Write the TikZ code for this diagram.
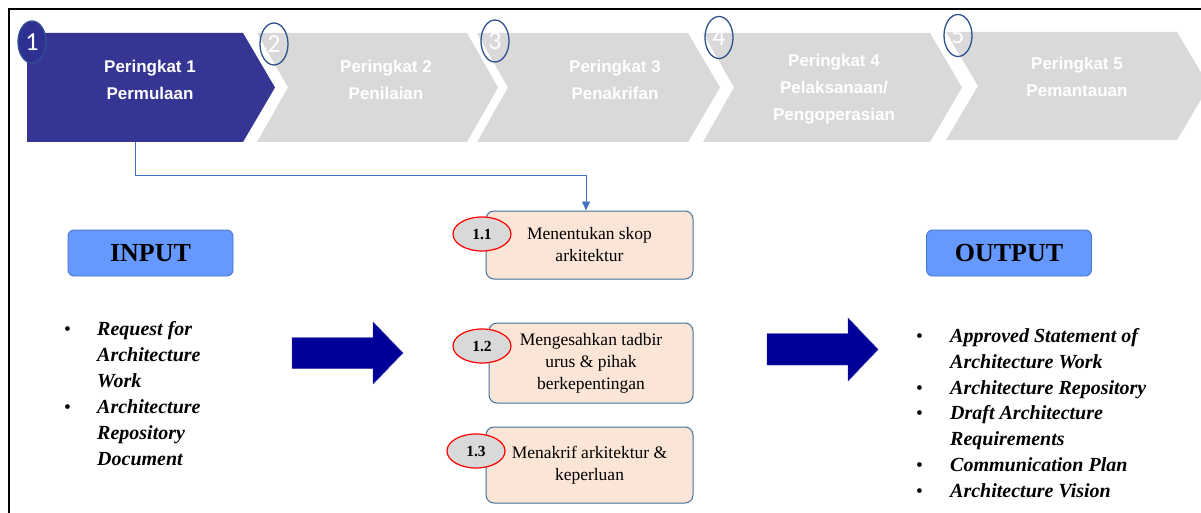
\documentclass[tikz,border=0pt]{standalone}
\usepackage{fontspec}
\setmainfont{Liberation Serif}
\newfontfamily\stagefont{Liberation Sans}
\newfontfamily\digitfont{Carlito}
\usetikzlibrary{shapes.geometric,arrows.meta}

\definecolor{stagedark}{HTML}{353594}
\definecolor{ringdark}{HTML}{2E3192}
\definecolor{stagegray}{HTML}{D9D9D9}
\definecolor{ringblue}{HTML}{2F528F}
\definecolor{peach}{HTML}{FBE5D6}
\definecolor{boxedge}{HTML}{41719C}
\definecolor{linkblue}{HTML}{4472C4}
\definecolor{ioblue}{HTML}{6699FF}
\definecolor{ioedge}{HTML}{4472C4}
\definecolor{bignavy}{HTML}{000099}
\definecolor{badgered}{HTML}{FF0000}

\tikzset{
  stagetext/.style={text=white, align=center,
    font=\stagefont\bfseries\fontsize{17}{27}\selectfont},
  ring/.style={ellipse, draw=ringblue, line width=1.3pt, inner sep=0pt,
    minimum width=28pt, minimum height=42pt, text=white,
    font=\digitfont\fontsize{26}{26}\selectfont},
  taskbox/.style={rectangle, rounded corners=8pt, draw=boxedge, line width=1pt,
    fill=peach, align=center, inner sep=2pt,
    font=\fontsize{17.5}{22}\selectfont},
  badge/.style={ellipse, draw=badgered, line width=1.2pt, fill=stagegray,
    minimum width=58pt, minimum height=34pt, inner sep=0pt,
    font=\bfseries\fontsize{15.5}{15.5}\selectfont},
  iobox/.style={rectangle, rounded corners=6pt, draw=ioedge, line width=0.8pt,
    fill=ioblue, minimum width=165pt, minimum height=46pt,
    font=\bfseries\fontsize{26}{26}\selectfont},
  listline/.style={anchor=base west, inner sep=0pt,
    font=\bfseries\itshape\fontsize{20}{26}\selectfont},
  bulletmark/.style={anchor=base west, inner sep=0pt,
    font=\fontsize{19.5}{26}\selectfont},
  link/.style={draw=linkblue, line width=0.8pt},
  bigarrow/.style={fill=bignavy, draw=bignavy!80, line width=0.4pt}
}

\begin{document}
\begin{tikzpicture}[x=1pt,y=-1pt]
\useasboundingbox (0,0) rectangle (1201,513);
\fill[white] (0,0) rectangle (1201,513);

% outer frame
\draw[black, line width=2pt] (8.5,514) -- (8.5,9.5) -- (1202,9.5);

% stage chevrons
\fill[stagedark] (27,33) -- (243,33) -- (275,87.5) -- (243,142) -- (27,142) -- cycle;
\fill[stagegray] (257,33) -- (467,33) -- (498,87.5) -- (467,142) -- (257,142) -- (288,87.5) -- cycle;
\fill[stagegray] (477,33) -- (688,33) -- (720,87.5) -- (688,142) -- (477,142) -- (508,87.5) -- cycle;
\fill[stagegray] (703,33) -- (930,33) -- (962,87.5) -- (930,142) -- (703,142) -- (734,87.5) -- cycle;
\fill[stagegray] (946,32) -- (1177,32) -- (1209,86) -- (1177,140) -- (946,140) -- (978,86) -- cycle;

\node[stagetext] (s1) at (150,79.5) {Peringkat 1\\Permulaan};
\node[stagetext] (s2) at (386,79.5) {Peringkat 2\\Penilaian};
\node[stagetext] (s3) at (615,79.5) {Peringkat 3\\Penakrifan};
\node[stagetext] (s4) at (834,89.5) {Peringkat 4\\Pelaksanaan/\\Pengoperasian};
\node[stagetext] (s5) at (1077,76.5) {Peringkat 5\\Pemantauan};

% stage numbers
\node[ring, fill=ringdark] (r1) at (32,42) {1};
\node[ring] (r2) at (274,44) {2};
\node[ring] (r3) at (495,41) {3};
\node[ring] (r4) at (719,37.5) {4};
\node[ring] (r5) at (958,35.5) {5};

% activities of stage 1
\node[taskbox, minimum width=207pt, minimum height=68pt] (t1) at (589.5,245)
  {Menentukan skop\\arkitektur};
\node[taskbox, minimum width=204pt, minimum height=80pt] (t2) at (591,363)
  {Mengesahkan tadbir\\urus \& pihak\\berkepentingan};
\node[taskbox, minimum width=207pt, minimum height=76pt] (t3) at (589.5,465)
  {Menakrif arkitektur \&\\keperluan};

\node[badge] (b1) at (482,234) {1.1};
\node[badge] (b2) at (482,346) {1.2};
\node[badge] (b3) at (476,451) {1.3};

% link from stage 1 to its first activity
\coordinate (s1foot) at (135,142);
\draw[link, -{Triangle[length=9pt,width=8pt]}]
  (s1foot) -- (135,175) -| ([xshift=-3.5pt]t1.north);

% input / output headers
\node[iobox] (in) at (150.5,253) {INPUT};
\node[iobox] (out) at (1009,253) {OUTPUT};

% input list
\foreach \yy/\txt in {335/Request for, 361/Architecture, 387/Work,
                      413/Architecture, 439/Repository, 465/Document}
  \node[listline] at (97,\yy) {\txt};
\node[bulletmark] (ib1) at (64,335) {•};
\node[bulletmark] (ib2) at (64,413) {•};

% output list
\foreach \yy/\txt in {342/Approved Statement of, 368/Architecture Work,
                      394/Architecture Repository, 419.5/Draft Architecture,
                      445.5/Requirements, 471.5/Communication Plan,
                      497.5/Architecture Vision}
  \node[listline] at (950,\yy) {\txt};
\foreach \yy [count=\k] in {342,394,419.5,471.5,497.5}
  \node[bulletmark] (ob\k) at (916,\yy) {•};

% flow arrows
\path[bigarrow] (292,337.5) -- (373,337.5) -- (373,322) -- (403,353) -- (373,384)
  -- (373,368.5) -- (292,368.5) -- cycle;
\path[bigarrow] (767,333.5) -- (848,333.5) -- (848,318) -- (878,349.5) -- (848,381)
  -- (848,365) -- (767,365) -- cycle;
\end{tikzpicture}
\end{document}
